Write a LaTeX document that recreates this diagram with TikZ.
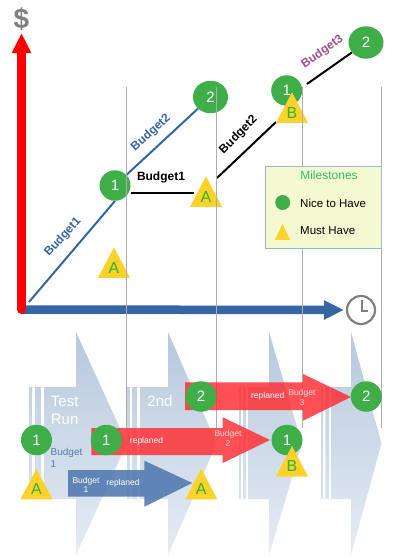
\documentclass[tikz,border=0pt]{standalone}
\usepackage{fontspec}
\setmainfont{Liberation Sans}
\usetikzlibrary{arrows.meta,shapes.geometric,backgrounds}
\definecolor{niceGreen}{HTML}{3FAE49}
\definecolor{mustYellow}{HTML}{FFD12B}
\definecolor{letterGreen}{HTML}{2DB52D}
\definecolor{planBlue}{HTML}{3566A3}
\definecolor{budgetPurple}{HTML}{A64D8C}
\definecolor{chevTop}{HTML}{98B1CE}
\definecolor{chevBottom}{HTML}{DAE4F0}
\definecolor{legendFill}{HTML}{F5F9D2}
\definecolor{legendLine}{HTML}{9DB7D0}
\definecolor{legendTitle}{HTML}{2FC060}
\definecolor{replanRed}{HTML}{FF2A30}
\definecolor{replanBlue}{HTML}{4F78AE}
\tikzset{
  nice/.style={shape=ellipse,fill=niceGreen,text=white,inner sep=0pt,minimum width=31pt,minimum height=30.5pt,font=\fontsize{15}{17}\selectfont},
  nicebig/.style={nice,minimum width=35pt,minimum height=32.5pt},
  must/.style={shape=isosceles triangle,shape border rotate=90,isosceles triangle stretches,fill=mustYellow,text=letterGreen,text depth=2.5pt,inner sep=0pt,minimum width=32pt,minimum height=30.5pt,anchor=lower side,font=\fontsize{16}{18}\selectfont},
  budget/.style={font=\bfseries\fontsize{12}{14}\selectfont,inner sep=0pt},
  plan/.style={line width=2pt,draw=planBlue},
  replan/.style={line width=2pt,draw=black},
  guide/.style={draw=black!32,line width=0.8pt},
  chev/.style={top color=chevTop,bottom color=chevBottom,opacity=0.7},
  redarrow/.style={fill=replanRed,fill opacity=0.82},
  small/.style={font=\fontsize{8.5}{9.5}\selectfont,inner sep=0pt,align=center},
}
\begin{document}
\begin{tikzpicture}[x=1pt,y=-1pt]
  \useasboundingbox (0,0) rectangle (412,557);
  \coordinate (o) at (21.5,309.5);
  \coordinate (ytop) at (21.5,33);
  \coordinate (s0) at (29,302);
  \coordinate (c1) at (130.5,193);
  \coordinate (c2) at (193.5,193);
  \coordinate (c3) at (217,178);
  \coordinate (c4) at (276,122);
  \coordinate (c5) at (307,84);
  \node[font=\bfseries\fontsize{28}{30}\selectfont,text=black!50,inner sep=0pt] (dollar) at (21.5,19) {\$};
  \node[draw=black!50,line width=2.2pt,shape=circle,minimum size=28pt,inner sep=0pt] (clock) at (361,310) {};
  \draw[line width=2.2pt,draw=black!50] (362,300) |- (368,311);
  \node[nice] (t1) at (115,185.5) {1};
  \node[nicebig] (t2) at (210.5,97) {2};
  \node[nice] (t3) at (286.7,90.5) {1};
  \node[nicebig] (t4) at (366,42.5) {2};
  \begin{pgfonlayer}{background}
    \draw[plan] (s0) -- (t1.south);
    \draw[plan] (t1) -- (t2);
    \draw[replan] (c1) -- (c2);
    \draw[replan] (c3) -- (c4);
    \draw[replan] (c5) -- (t4);
  \end{pgfonlayer}
  \node[must] (a1) at (114,278) {A};
  \node[must] (a2) at (206,207) {A};
  \node[must] (b1) at (292,123) {B};
  \draw[line width=8.5pt,draw=planBlue,-{Triangle[length=20pt,width=18pt]}] (o) -- (344,310);
  \draw[line width=9pt,draw=red,line cap=round,-{Triangle[length=20pt,width=18pt]}] (o) -- (ytop);
  \node[budget,text=planBlue,rotate=48] (l1) at (63,237) {Budget1};
  \node[budget,text=planBlue,rotate=42] (l2) at (151,133) {Budget2};
  \node[budget] (l3) at (161,177) {Budget1};
  \node[budget,rotate=45] (l4) at (238.5,135) {Budget2};
  \node[budget,text=budgetPurple,rotate=35] (l5) at (322.5,52) {Budget3};
  \foreach \x in {126.5,216.5,302.5,381.5}
    \draw[guide] (\x,87) -- (\x,428);
  \node[draw=legendLine,fill=legendFill,line width=0.8pt,minimum width=116pt,minimum height=82pt,inner sep=0pt] (legend) at (323.5,207) {};
  \node[text=legendTitle,font=\fontsize{12}{14}\selectfont,inner sep=0pt] (legendtitle) at (329,175.5) {Milestones};
  \node[shape=circle,fill=niceGreen,minimum size=15pt,inner sep=0pt] (legendnice) at (282.7,202.5) {};
  \node[must,minimum width=15pt,minimum height=16pt] (legendmust) at (282.5,240) {};
  \node[anchor=west,inner sep=0pt,font=\fontsize{11.5}{14}\selectfont] (nicetext) at (300,203) {Nice to Have};
  \node[anchor=west,inner sep=0pt,font=\fontsize{11.5}{14}\selectfont] (musttext) at (300,231) {Must Have};
  \foreach \xa/\xb/\xc/\xd/\xe/\xf/\xg in {29/32/35/41/44/76/127,127.5/130/132/137/140/168/216.5,239/241/243/246/248/269/302,321.3/323/325.3/329/331/351/381.5}
    \path[chev] (\xa,387) rectangle (\xb,499) (\xc,387) rectangle (\xd,499)
      (\xe,387) -- (\xf,387) -- (\xf,332) -- (\xg,443.5) -- (\xf,555) -- (\xf,499) -- (\xe,499) -- cycle;
  \node[anchor=west,align=left,text=white,inner sep=0pt,font=\fontsize{15}{18}\selectfont] (run1) at (50.7,410) {Test\\Run};
  \node[text=white,inner sep=0pt,font=\fontsize{15}{18}\selectfont] (run2) at (160,401) {2nd};
  \node[anchor=west,align=left,text=planBlue!85,inner sep=0pt,font=\fontsize{10}{12}\selectfont] (bud1) at (50.5,458) {Budget\\1};
  \path[redarrow] (91.3,428) -- (222.7,428) -- (222.7,417.3) -- (270,440) -- (222.7,463) -- (222.7,455) -- (91.3,455) -- cycle;
  \path[redarrow] (185,382.3) -- (303,382.3) -- (303,374) -- (351,397) -- (303,420.7) -- (303,410) -- (185,410) -- cycle;
  \path[fill=replanBlue,fill opacity=0.88] (68,470) -- (144.3,470) -- (144.3,460.7) -- (192.3,483) -- (144.3,506.7) -- (144.3,496.7) -- (68,496.7) -- cycle;
  \node[small,text=white] (r1) at (146.5,441) {replaned};
  \node[small,text=white] (r2) at (267.7,396.7) {replaned};
  \node[small,text=white] (r3) at (123,483) {replaned};
  \node[small,text=red!15] (b2) at (228,438.5) {Budget\\2};
  \node[small,text=red!15] (b3) at (302,397.5) {Budget\\3};
  \node[small,text=white] (b0) at (86,485) {Budget\\1};
  \node[nice] (n1) at (36.5,440) {1};
  \node[nice] (n2) at (106.3,440) {1};
  \node[nice] (n3) at (201,396.5) {2};
  \node[nice] (n4) at (287,440) {1};
  \node[nice] (n5) at (366.3,396.5) {2};
  \node[must] (m1) at (36.5,499.5) {A};
  \node[must] (m2) at (201.3,499.5) {A};
  \node[must] (m3) at (292,476.7) {B};
\end{tikzpicture}
\end{document}
